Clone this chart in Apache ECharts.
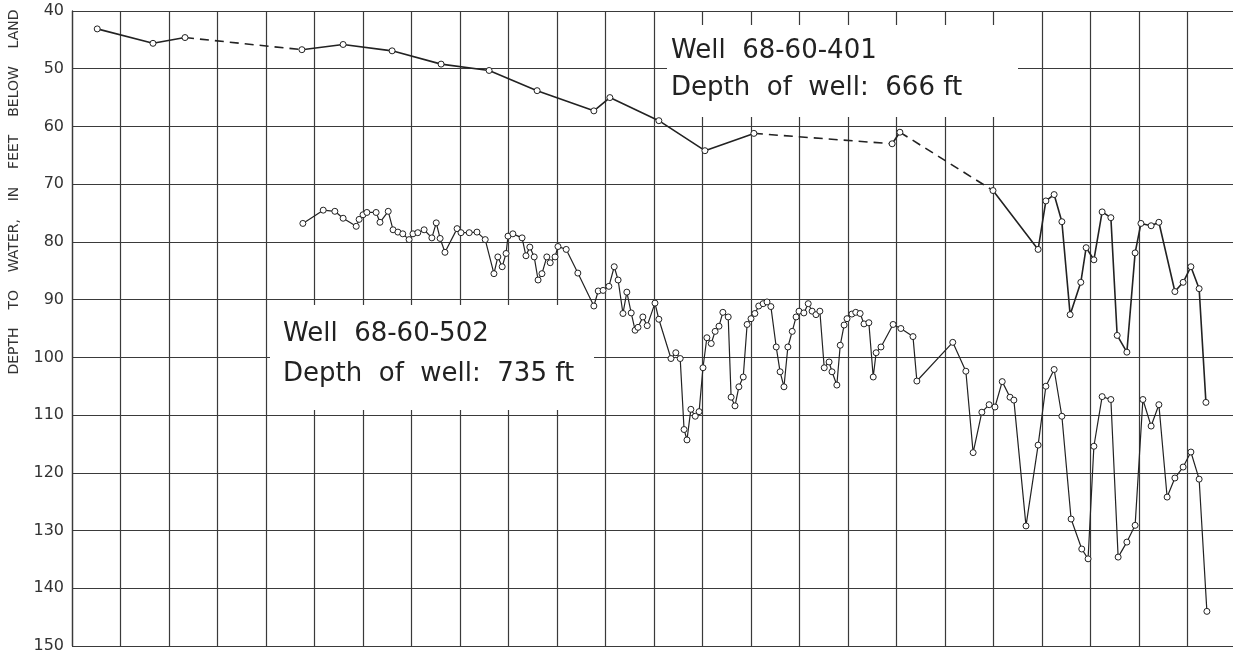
<!DOCTYPE html>
<html>
<head>
<meta charset="utf-8">
<script src="https://cdn.jsdelivr.net/npm/echarts@6/dist/echarts.min.js"></script>
<style>
html,body{margin:0;padding:0;background:#fff;overflow:hidden;}
#c{width:1236px;height:654px;}
</style>
</head>
<body>
<div id="c"></div>
<script>
// Y ticks (depth to water, feet below land)
var yTicks = [40, 50, 60, 70, 80, 90, 100, 110, 120, 130, 140, 150];

// Well 68-60-401 : x in grid-column units, depth in feet
var w401_x = [0.52, 1.67, 2.33, 4.74, 5.59, 6.60, 7.61, 8.60, 9.59, 10.76, 11.09, 12.10, 13.05, 14.06, 16.91, 17.07, 18.99, 19.92, 20.08, 20.25, 20.41, 20.58, 20.80, 20.91, 21.07, 21.24, 21.42, 21.55, 21.75, 21.92, 22.04, 22.25, 22.41, 22.74, 22.91, 23.07, 23.24, 23.38];
var w401_y = [43.1, 45.6, 44.6, 46.7, 45.8, 46.9, 49.2, 50.3, 53.8, 57.3, 55.0, 59.0, 64.2, 61.2, 63.0, 61.0, 71.1, 81.3, 72.9, 71.8, 76.5, 92.6, 87.0, 81.0, 83.1, 74.8, 75.8, 96.2, 99.1, 81.9, 76.8, 77.2, 76.6, 88.6, 87.0, 84.3, 88.1, 107.8];
// segments drawn dashed (index of start point; dashed to next point)
var w401_dashedFrom = [2, 13, 15];

// Well 68-60-502
var w502_x = [4.76, 5.18, 5.42, 5.59, 5.86, 5.92, 6.00, 6.08, 6.27, 6.35, 6.52, 6.62, 6.72, 6.82, 6.95, 7.03, 7.13, 7.26, 7.42, 7.51, 7.59, 7.69, 7.94, 8.02, 8.19, 8.35, 8.52, 8.70, 8.78, 8.87, 8.95, 8.99, 9.09, 9.28, 9.36, 9.44, 9.53, 9.61, 9.69, 9.79, 9.86, 9.96, 10.02, 10.19, 10.43, 10.76, 10.85, 10.95, 11.07, 11.18, 11.26, 11.36, 11.44, 11.53, 11.61, 11.67, 11.77, 11.86, 12.02, 12.10, 12.35, 12.45, 12.54, 12.62, 12.68, 12.76, 12.85, 12.93, 13.01, 13.09, 13.18, 13.26, 13.34, 13.42, 13.53, 13.59, 13.67, 13.75, 13.84, 13.92, 14.00, 14.08, 14.16, 14.25, 14.33, 14.41, 14.52, 14.60, 14.68, 14.76, 14.85, 14.93, 14.99, 15.09, 15.18, 15.26, 15.34, 15.42, 15.51, 15.61, 15.67, 15.77, 15.84, 15.92, 15.98, 16.08, 16.16, 16.25, 16.33, 16.43, 16.52, 16.58, 16.68, 16.93, 17.09, 17.34, 17.42, 18.16, 18.43, 18.58, 18.76, 18.91, 19.03, 19.18, 19.34, 19.42, 19.67, 19.92, 20.08, 20.25, 20.41, 20.60, 20.82, 20.95, 21.07, 21.24, 21.42, 21.57, 21.75, 21.92, 22.08, 22.25, 22.41, 22.58, 22.74, 22.91, 23.07, 23.24, 23.40];
var w502_y = [76.8, 74.5, 74.7, 75.9, 77.3, 76.1, 75.3, 74.9, 74.9, 76.6, 74.7, 77.9, 78.3, 78.6, 79.6, 78.6, 78.4, 77.9, 79.3, 76.7, 79.4, 81.8, 77.7, 78.4, 78.4, 78.3, 79.6, 85.5, 82.6, 84.3, 82.0, 79.0, 78.6, 79.3, 82.4, 80.9, 82.6, 86.6, 85.5, 82.6, 83.6, 82.6, 80.8, 81.3, 85.4, 91.1, 88.5, 88.4, 87.7, 84.3, 86.6, 92.4, 88.7, 92.3, 95.3, 94.8, 93.0, 94.5, 90.6, 93.4, 100.2, 99.2, 100.2, 112.5, 114.3, 109.0, 110.2, 109.4, 101.8, 96.6, 97.6, 95.5, 94.6, 92.2, 93.0, 106.9, 108.4, 105.1, 103.4, 94.3, 93.3, 92.4, 91.1, 90.7, 90.4, 91.2, 98.2, 102.5, 105.1, 98.2, 95.5, 93.0, 92.0, 92.3, 90.7, 92.0, 92.6, 92.0, 101.8, 100.8, 102.5, 104.8, 97.9, 94.4, 93.3, 92.5, 92.2, 92.4, 94.2, 94.0, 103.4, 99.2, 98.2, 94.3, 95.0, 96.4, 104.1, 97.4, 102.4, 116.5, 109.5, 108.2, 108.6, 104.2, 106.9, 107.4, 129.2, 115.2, 105.0, 102.1, 110.2, 128.0, 133.2, 134.9, 115.4, 106.8, 107.3, 134.6, 132.0, 129.1, 107.3, 111.9, 108.2, 124.2, 120.9, 119.0, 116.4, 121.1, 144.0];

// Annotation texts
var label401 = ['Well  68-60-401', 'Depth  of  well:  666 ft'];
var label502 = ['Well  68-60-502', 'Depth  of  well:  735 ft'];
var yTitle = 'DEPTH    TO    WATER,    IN    FEET    BELOW    LAND';

// build solid (with gaps) and dashed data for well 401
var solid401 = [], dashed401 = [];
for (var i = 0; i < w401_x.length; i++) {
  var isDashStart = w401_dashedFrom.indexOf(i) >= 0;
  solid401.push([w401_x[i], w401_y[i]]);
  if (isDashStart) {
    solid401.push('-');
    dashed401.push([w401_x[i], w401_y[i]]);
    dashed401.push([w401_x[i + 1], w401_y[i + 1]]);
    dashed401.push('-');
  }
}
var data502 = w502_x.map(function (x, i) { return [x, w502_y[i]]; });

var chart = echarts.init(document.getElementById('c'), null, {renderer: 'canvas'});
var lineColor = '#222';
var gridColor = '#3a3a3a';
var font = 'DejaVu Sans';

var ptsStyle = {
  type: 'line',
  symbol: 'circle',
  symbolSize: 6,
  showAllSymbol: true,
  connectNulls: false,
  lineStyle: {color: lineColor, width: 1.6},
  itemStyle: {color: '#fff', borderColor: lineColor, borderWidth: 1},
  animation: false,
  z: 3
};

chart.setOption({
  backgroundColor: '#fff',
  animation: false,
  grid: {left: 72, right: 0, top: 11, bottom: 7, containLabel: false},
  xAxis: {
    type: 'value', min: 0, max: 24, interval: 1,
    axisLine: {show: false}, axisTick: {show: false}, axisLabel: {show: false},
    splitLine: {show: true, lineStyle: {color: gridColor, width: 1.2}}
  },
  yAxis: {
    type: 'value', inverse: true, min: yTicks[0], max: yTicks[yTicks.length - 1], interval: 10,
    axisLine: {show: true, lineStyle: {color: gridColor, width: 1.3}},
    axisTick: {show: false},
    axisLabel: {
      color: '#333', fontFamily: font, fontSize: 16, margin: 8,
      formatter: function (v) { return yTicks.indexOf(v) >= 0 ? String(v) : ''; }
    },
    splitLine: {show: true, lineStyle: {color: gridColor, width: 1.2}}
  },
  graphic: [
    {type: 'rect', z: 1, shape: {x: 667, y: 25, width: 351, height: 92}, style: {fill: '#fff'}},
    {type: 'rect', z: 1, shape: {x: 270, y: 305, width: 324, height: 105}, style: {fill: '#fff'}},
    {type: 'text', z: 5, x: 671, y: 51, style: {text: label401[0], font: '26px "DejaVu Sans"', fill: '#222', textAlign: 'left', textVerticalAlign: 'middle'}},
    {type: 'text', z: 5, x: 671, y: 88, style: {text: label401[1], font: '26px "DejaVu Sans"', fill: '#222', textAlign: 'left', textVerticalAlign: 'middle'}},
    {type: 'text', z: 5, x: 283, y: 334, style: {text: label502[0], font: '26px "DejaVu Sans"', fill: '#222', textAlign: 'left', textVerticalAlign: 'middle'}},
    {type: 'text', z: 5, x: 283, y: 374, style: {text: label502[1], font: '26px "DejaVu Sans"', fill: '#222', textAlign: 'left', textVerticalAlign: 'middle'}},
    {type: 'text', z: 5, x: 14, y: 192, rotation: Math.PI / 2, style: {text: yTitle, font: '14px "DejaVu Sans"', fill: '#333', textAlign: 'center', textVerticalAlign: 'middle'}}
  ],
  series: [
    Object.assign({}, ptsStyle, {name: 'Well 68-60-401', data: solid401}),
    {
      name: 'Well 68-60-401 (dashed)', type: 'line', data: dashed401, symbol: 'none',
      connectNulls: false, animation: false, z: 2,
      lineStyle: {color: lineColor, width: 1.6, type: [9, 6]}
    },
    Object.assign({}, ptsStyle, {name: 'Well 68-60-502', data: data502, lineStyle: {color: lineColor, width: 1.2}})
  ]
});
</script>
</body>
</html>
